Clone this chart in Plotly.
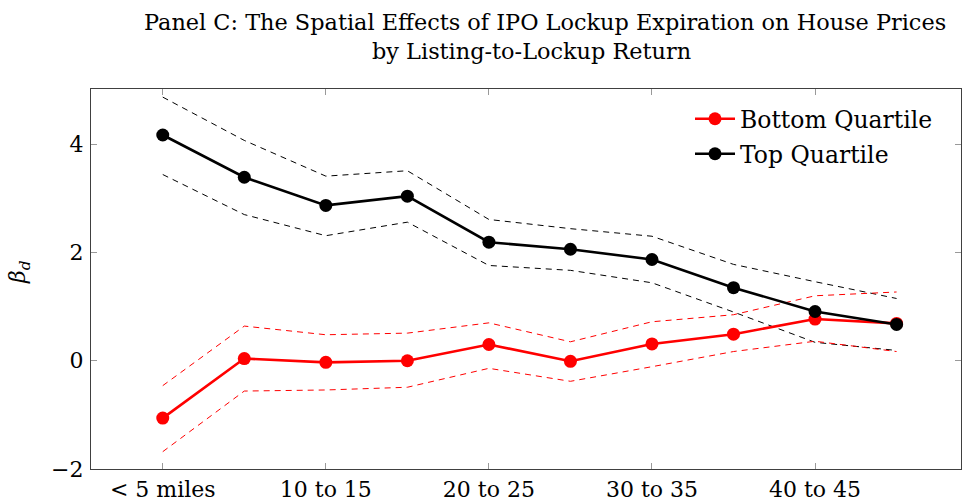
import plotly.graph_objects as go

categories = ["< 5 miles", "5 to 10", "10 to 15", "15 to 20", "20 to 25",
              "25 to 30", "30 to 35", "35 to 40", "40 to 45", "45 to 50"]
tick_labels = ["< 5 miles", "10 to 15", "20 to 25", "30 to 35", "40 to 45"]

bottom = [-1.06, 0.04, -0.03, 0.00, 0.30, -0.01, 0.31, 0.49, 0.77, 0.69]
bottom_hi = [-0.46, 0.64, 0.48, 0.51, 0.70, 0.35, 0.72, 0.85, 1.20, 1.27]
bottom_lo = [-1.68, -0.56, -0.54, -0.49, -0.14, -0.38, -0.11, 0.17, 0.36, 0.17]

top = [4.17, 3.39, 2.87, 3.04, 2.19, 2.06, 1.87, 1.35, 0.91, 0.67]
top_hi = [4.87, 4.07, 3.41, 3.51, 2.61, 2.44, 2.30, 1.78, 1.46, 1.15]
top_lo = [3.44, 2.70, 2.31, 2.56, 1.76, 1.67, 1.44, 0.90, 0.34, 0.19]

title_lines = ["Panel C: The Spatial Effects of IPO Lockup Expiration on House Prices",
               "by Listing-to-Lockup Return"]

RED = "#ff0000"
BLACK = "#000000"
FONT = "DejaVu Serif"

W, Hfig = 971, 504
L, R, T, B = 91, 10, 89, 35
PW, PH = W - L - R, Hfig - T - B
def px(pix):
    return (pix - L) / PW
def py(pix):
    return (Hfig - B - pix) / PH

fig = go.Figure()

for ys, col in [(top_hi, BLACK), (top_lo, BLACK), (bottom_hi, RED), (bottom_lo, RED)]:
    fig.add_trace(go.Scatter(x=categories, y=ys, mode="lines", showlegend=False,
                             line=dict(color=col, width=1, dash="6px,5px"),
                             hoverinfo="skip"))

fig.add_trace(go.Scatter(x=categories, y=bottom, mode="lines+markers", name="Bottom Quartile",
                         line=dict(color=RED, width=2.6),
                         marker=dict(color=RED, size=13), legend="legend"))
fig.add_trace(go.Scatter(x=categories, y=top, mode="lines+markers", name="Top Quartile",
                         line=dict(color=BLACK, width=2.6),
                         marker=dict(color=BLACK, size=13), legend="legend2"))

fig.add_annotation(text=title_lines[0], xref="paper", yref="paper", x=px(545), y=py(22),
                   xanchor="center", yanchor="middle", showarrow=False,
                   font=dict(family=FONT, size=22.4, color="black"))
fig.add_annotation(text=title_lines[1], xref="paper", yref="paper", x=px(531), y=py(51),
                   xanchor="center", yanchor="middle", showarrow=False,
                   font=dict(family=FONT, size=22.4, color="black"))
fig.add_annotation(text="<i>β<sub>d</sub></i>", xref="paper", yref="paper", x=px(19), y=py(272),
                   xanchor="center", yanchor="middle", showarrow=False, textangle=-90,
                   font=dict(family=FONT, size=22, color="black"))

leg_common = dict(xanchor="left", yanchor="middle", bgcolor="rgba(0,0,0,0)", borderwidth=0,
                  font=dict(family=FONT, size=23.5, color="black"), itemwidth=40)
fig.update_layout(
    width=W, height=Hfig,
    paper_bgcolor="white", plot_bgcolor="white",
    margin=dict(l=L, r=R, t=T, b=B, pad=0, autoexpand=False),
    font=dict(family=FONT, size=22, color="black"),
    legend=dict(x=px(690), y=py(119), **leg_common),
    legend2=dict(x=px(690), y=py(154), **leg_common),
    showlegend=True,
)

fig.update_xaxes(type="category", categoryorder="array", categoryarray=categories,
                 range=[-0.88, 9.79], tickvals=tick_labels, ticktext=tick_labels,
                 showgrid=False, zeroline=False, showline=True, linecolor="#404040",
                 linewidth=1.3, mirror="allticks", ticks="inside", ticklen=6,
                 tickcolor="#999999", tickwidth=1, tickfont=dict(size=22), automargin=False)
fig.update_yaxes(range=[-2.0, 5.02], tickvals=[-2, 0, 2, 4], ticktext=["\u22122", "0", "2", "4"],
                 showgrid=False, zeroline=False, showline=True, linecolor="#404040",
                 linewidth=1.3, mirror="allticks", ticks="inside", ticklen=6,
                 tickcolor="#999999", tickwidth=1, tickfont=dict(size=22), automargin=False,
                 ticklabelstandoff=2)

fig.write_html("out.html", config={"displayModeBar": False},
               post_script="document.body.style.margin='0';document.body.style.overflow='hidden';")
